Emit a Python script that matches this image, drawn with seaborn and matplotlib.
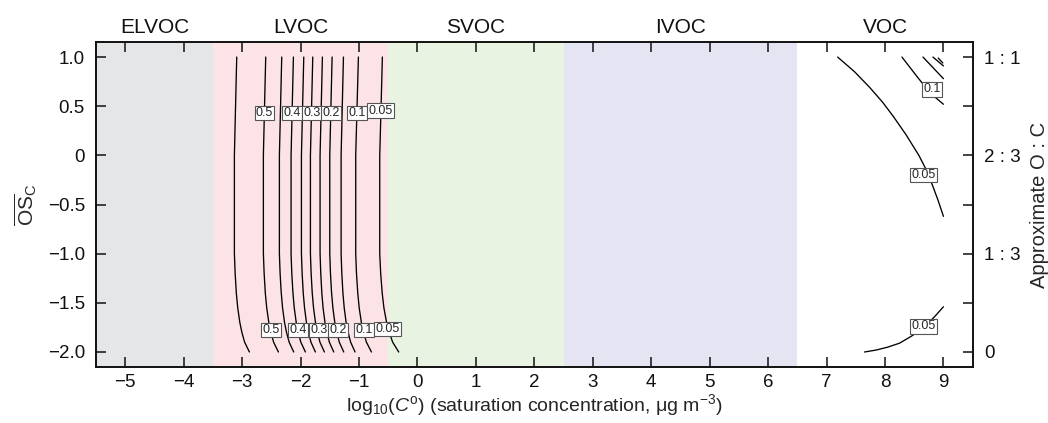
import matplotlib
matplotlib.use("Agg")
import matplotlib.pyplot as plt
import pandas as pd
import seaborn as sns

# ---------------- data ----------------
band_names = ["ELVOC", "LVOC", "SVOC", "IVOC", "VOC"]
band_edges = [-5.5, -3.5, -0.5, 2.5, 6.5, 9.5]
band_colors = ["#E5E6E8", "#FBE3E6", "#E8F3E2", "#E5E4F2", "#FFFFFF"]

x_ticks = list(range(-5, 10))
x_tick_labels = ["\u22125", "\u22124", "\u22123", "\u22122", "\u22121", "0", "1", "2", "3",
                 "4", "5", "6", "7", "8", "9"]
y_ticks = [1.0, 0.5, 0.0, -0.5, -1.0, -1.5, -2.0]
y_tick_labels = ["1.0", "0.5", "0", "\u22120.5", "\u22121.0", "\u22121.5", "\u22122.0"]
oc_ticks = [1.0, 0.0, -1.0, -2.0]
oc_labels = ["1 : 1", "2 : 3", "1 : 3", "0"]
oc_minor = [0.5, -0.5, -1.5]

# LVOC contour lines (x positions at common OSc values)
lv_y = [1.0, 0.5, 0.0, -0.5, -1.0, -1.2, -1.4, -1.55, -1.7, -1.8, -1.9, -2.0]
lv_levels = [0.55, 0.5, 0.45, 0.4, 0.35, 0.3, 0.25, 0.2, 0.15, 0.1, 0.05]
lv_x = [
    [-3.092, -3.112, -3.132, -3.132, -3.132, -3.119, -3.099, -3.075, -3.039, -3.004, -2.957, -2.875],
    [-2.596, -2.616, -2.636, -2.636, -2.636, -2.623, -2.603, -2.579, -2.543, -2.508, -2.461, -2.379],
    [-2.322, -2.342, -2.362, -2.362, -2.362, -2.350, -2.330, -2.308, -2.274, -2.240, -2.195, -2.117],
    [-2.122, -2.142, -2.162, -2.162, -2.162, -2.150, -2.130, -2.108, -2.074, -2.040, -1.995, -1.917],
    [-1.945, -1.965, -1.985, -1.985, -1.985, -1.973, -1.954, -1.932, -1.899, -1.865, -1.822, -1.746],
    [-1.791, -1.811, -1.831, -1.831, -1.831, -1.819, -1.800, -1.778, -1.745, -1.711, -1.668, -1.592],
    [-1.626, -1.646, -1.666, -1.666, -1.666, -1.654, -1.636, -1.615, -1.582, -1.549, -1.507, -1.432],
    [-1.460, -1.480, -1.500, -1.500, -1.500, -1.488, -1.469, -1.447, -1.414, -1.380, -1.337, -1.261],
    [-1.266, -1.286, -1.306, -1.306, -1.306, -1.294, -1.275, -1.253, -1.220, -1.186, -1.143, -1.067],
    [-1.010, -1.033, -1.056, -1.056, -1.056, -1.043, -1.021, -0.997, -0.959, -0.922, -0.873, -0.787],
    [-0.600, -0.622, -0.645, -0.645, -0.645, -0.629, -0.603, -0.574, -0.528, -0.483, -0.424, -0.320],
]

# VOC contour lines
voc_levels = [0.05, 0.05, 0.1, 0.15, 0.2, 0.25]
voc_x = [
    [7.19, 7.48, 7.74, 7.96, 8.15, 8.36, 8.58, 8.70, 8.81, 8.91, 9.0],
    [7.65, 7.85, 8.05, 8.25, 8.45, 8.65, 8.85, 9.0],
    [8.29, 8.55, 8.78, 9.0],
    [8.65, 9.0],
    [8.82, 9.0],
    [8.91, 8.99],
]
voc_y = [
    [1.0, 0.85, 0.69, 0.54, 0.39, 0.21, 0.0, -0.14, -0.30, -0.46, -0.62],
    [-2.0, -1.98, -1.95, -1.91, -1.84, -1.76, -1.64, -1.54],
    [1.0, 0.8, 0.63, 0.52],
    [1.0, 0.78],
    [1.0, 0.91],
    [0.99, 0.94],
]

# contour labels
lab_text = ["0.5", "0.4", "0.3", "0.2", "0.1", "0.05",
            "0.5", "0.4", "0.3", "0.2", "0.1", "0.05",
            "0.1", "0.05", "0.05"]
lab_x = [-2.618, -2.145, -1.809, -1.477, -1.039, -0.628,
         -2.504, -2.037, -1.689, -1.352, -0.919, -0.508,
         8.80, 8.66, 8.66]
lab_y = [0.433, 0.433, 0.433, 0.433, 0.433, 0.454,
         -1.777, -1.777, -1.777, -1.777, -1.777, -1.764,
         0.67, -0.20, -1.74]

# ---------------- build long table ----------------
rows = []
for i, xs in enumerate(lv_x):
    for xv, yv in zip(xs, lv_y):
        rows.append({"x": xv, "y": yv, "line": f"lv{i}", "level": lv_levels[i]})
for i, (xs, ys) in enumerate(zip(voc_x, voc_y)):
    for xv, yv in zip(xs, ys):
        rows.append({"x": xv, "y": yv, "line": f"voc{i}", "level": voc_levels[i]})
df = pd.DataFrame(rows)

# ---------------- figure ----------------
sns.set_theme(style="ticks")
plt.rcParams["font.family"] = ["Liberation Sans", "DejaVu Sans"]
plt.rcParams["mathtext.fontset"] = "custom"
plt.rcParams["mathtext.rm"] = "Liberation Sans"
plt.rcParams["mathtext.it"] = "Liberation Sans:italic"

fig = plt.figure(figsize=(10.48, 4.23), dpi=100)
ax = fig.add_axes([0.0916, 0.133, 0.8365, 0.767])

for i, name in enumerate(band_names):
    ax.axvspan(band_edges[i], band_edges[i + 1], color=band_colors[i], lw=0, zorder=0)
    ax.text((band_edges[i] + band_edges[i + 1]) / 2, 1.045, name,
            transform=ax.get_xaxis_transform(), ha="center", va="center",
            fontsize=15, color="#111111")

sns.lineplot(data=df, x="x", y="y", units="line", estimator=None, sort=False,
             color="black", linewidth=0.95, ax=ax, legend=False, zorder=2)

for t, xv, yv in zip(lab_text, lab_x, lab_y):
    ax.text(xv, yv, t, ha="center", va="center", fontsize=9, zorder=4,
            bbox=dict(boxstyle="square,pad=0.1", facecolor="white",
                      edgecolor="#555555", linewidth=0.8))

ax.set_xlim(band_edges[0], band_edges[-1])
ax.set_ylim(-2.15, 1.15)
ax.set_xticks(x_ticks)
ax.set_xticklabels(x_tick_labels)
ax.set_yticks(y_ticks)
ax.set_yticklabels(y_tick_labels)
ax.tick_params(axis="both", direction="in", length=7, width=1.1, labelsize=13.5,
               top=True, colors="#111111", pad=5)
ax.tick_params(axis="y", pad=8)
ax.set_xlabel(r"log$_{10}$($C^{\mathrm{o}}$) (saturation concentration, $\mathrm{\mu}$g m$^{-3}$)",
              fontsize=14, labelpad=1)
ax.set_ylabel(r"$\overline{\mathrm{OS}}_{\mathrm{C}}$", fontsize=15, labelpad=6)
for s in ax.spines.values():
    s.set_linewidth(1.2)
    s.set_color("#111111")

ax2 = ax.twinx()
ax2.set_ylim(ax.get_ylim())
ax2.set_yticks(oc_ticks)
ax2.set_yticklabels(oc_labels)
ax2.set_yticks(oc_minor, minor=True)
ax2.tick_params(axis="y", which="both", direction="in", length=7, width=1.1,
                labelsize=13.5, pad=8, colors="#111111")
ax2.set_ylabel("Approximate O : C", fontsize=14.5)
ax2.yaxis.set_label_coords(1.076, 0.5)
ax2.yaxis.label.set_va("center")
for s in ax2.spines.values():
    s.set_linewidth(1.2)
    s.set_color("#111111")

fig.savefig("out.png", dpi=100)
